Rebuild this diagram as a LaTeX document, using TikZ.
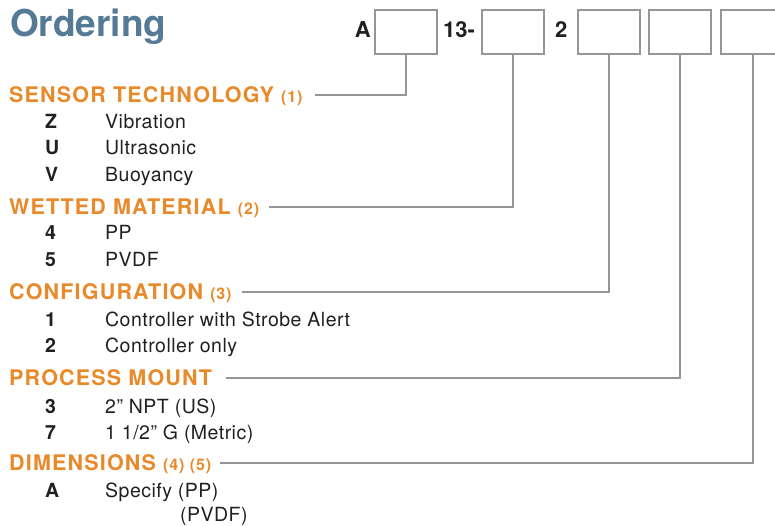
\documentclass[tikz,border=0pt]{standalone}
\usepackage{fontspec}
\setmainfont{TeX Gyre Heros}
\newfontfamily\headfont[LetterSpace=5.5]{TeX Gyre Heros}
\newfontfamily\itemfont[LetterSpace=2.5]{TeX Gyre Heros}
\definecolor{ordorange}{HTML}{E8892A}
\definecolor{ordblue}{HTML}{557A95}
\definecolor{linegray}{HTML}{939598}
\definecolor{textdark}{HTML}{231F20}
\newcommand{\refno}[1]{{\fontsize{16}{18}\selectfont #1}}
\tikzset{
	box/.style={draw=linegray, line width=2pt, minimum width=62pt, minimum height=44pt, inner sep=0pt},
	link/.style={draw=linegray, line width=2pt},
	heading/.style={anchor=west, inner sep=0pt, text height=15.5pt, text depth=0pt, text=ordorange, font=\headfont\bfseries\fontsize{21.5}{24}\selectfont},
	num/.style={anchor=west, inner sep=0pt, text height=13.5pt, text depth=0pt, text=textdark, font=\itemfont\bfseries\fontsize{19.5}{22}\selectfont},
	item/.style={num, font=\itemfont\fontsize{19.5}{22}\selectfont},
	code/.style={inner sep=0pt, text=textdark, font=\bfseries\fontsize{22}{24}\selectfont}
}
\begin{document}
\begin{tikzpicture}[x=1pt, y=-1pt]
		\useasboundingbox (0,0) rectangle (775,525);
		\node[anchor=base west, inner sep=0pt, text=ordblue, font=\bfseries\fontsize{37}{40}\selectfont] (title) at (10,36) {Ordering};
		% order code
		\node[code, anchor=base east] (pa) at (371,37) {A};
		\node[code, anchor=base west] (p13) at (443,37) {13-};
		\node[code, anchor=base west] (p2) at (555,37) {2};
		\node[box] (b1) at (406,32) {};
		\node[box] (b2) at (513,32) {};
		\node[box] (b3) at (609,32) {};
		\node[box] (b4) at (680,32) {};
		\node[box, minimum width=64pt] (b5) at (753,32) {};
		% headings
		\node[heading] (hd1) at (9,95) {SENSOR TECHNOLOGY \refno{(1)}};
		\node[heading] (hd2) at (9,207) {WETTED MATERIAL \refno{(2)}};
		\node[heading] (hd3) at (9,292) {CONFIGURATION \refno{(3)}};
		\node[heading] (hd4) at (9,377.5) {PROCESS MOUNT};
		\node[heading] (hd5) at (9,463) {DIMENSIONS \refno{(4) (5)}};
		% options
		\node[num] (nz) at (45,122) {Z};
		\node[item] (tz) at (105,122) {Vibration};
		\node[num] (nu) at (45,148) {U};
		\node[item] (tu) at (105,148) {Ultrasonic};
		\node[num] (nv) at (45,175) {V};
		\node[item] (tv) at (105,175) {Buoyancy};
		\node[num] (n4) at (45,233) {4};
		\node[item] (t4) at (105,233) {PP};
		\node[num] (n5) at (45,260) {5};
		\node[item] (t5) at (105,260) {PVDF};
		\node[num] (n1) at (45,320) {1};
		\node[item] (t1) at (105,320) {Controller with Strobe Alert};
		\node[num] (n2) at (45,346) {2};
		\node[item] (t2) at (105,346) {Controller only};
		\node[num] (n3) at (45,406.5) {3};
		\node[item] (t3) at (105,406.5) {2” NPT (US)};
		\node[num] (n7) at (45,433) {7};
		\node[item] (t7) at (105,433) {1 1/2” G (Metric)};
		\node[num] (na) at (45,490.5) {A};
		\node[item] (ta) at (105,490.5) {Specify (PP)};
		\node[item] (tb) at (180,515) {(PVDF)};
		% connectors
		\draw[link] (b1.south) |- ([xshift=12pt]hd1.east);
		\draw[link] (b2.south) |- ([xshift=10pt]hd2.east);
		\draw[link] (b3.south) |- ([xshift=10pt]hd3.east);
		\draw[link] (b4.south) |- ([xshift=14pt]hd4.east);
		\draw[link] (b5.south) |- ([xshift=9pt]hd5.east);
\end{tikzpicture}
\end{document}
